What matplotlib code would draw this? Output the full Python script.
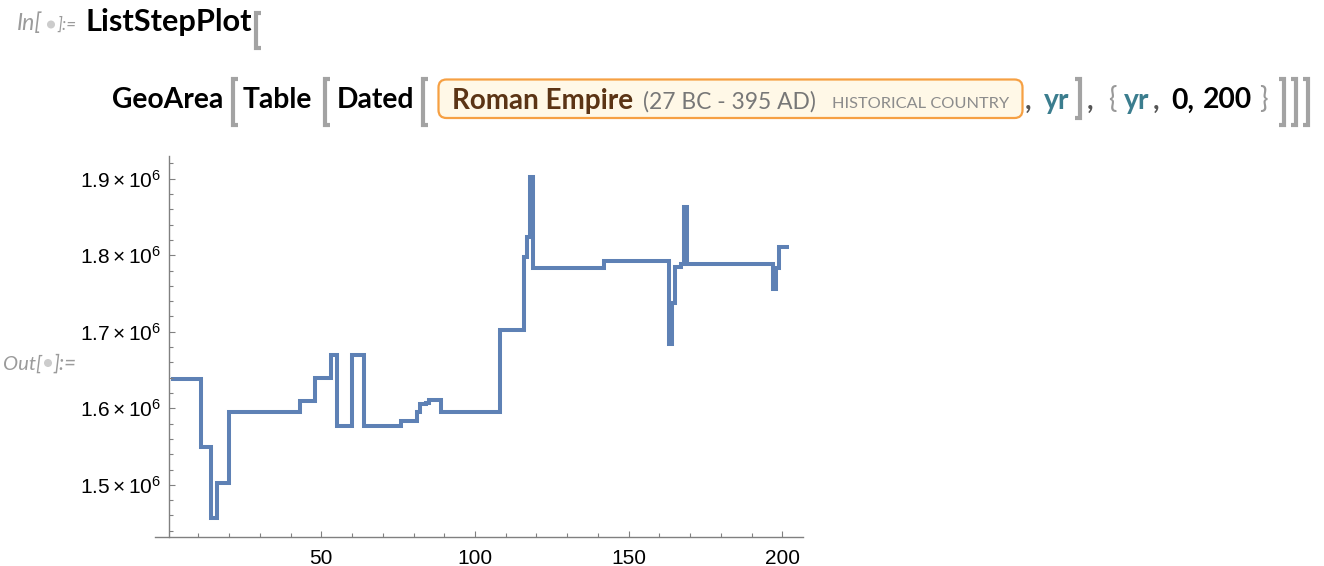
import matplotlib
matplotlib.use('Agg')
import matplotlib.pyplot as plt
from matplotlib.ticker import FixedLocator, MultipleLocator, FuncFormatter
from matplotlib.patches import FancyBboxPatch, Circle
from matplotlib.lines import Line2D
from matplotlib.transforms import Affine2D

# ---------------- data ----------------
# step edges in ListStepPlot index units (index 1 == yr 0), and the value on each step
step_edges = [1, 11, 14, 16, 20, 43, 48, 53, 55, 60, 64, 76, 81, 82, 84, 85, 89,
              108, 116, 117, 118, 119, 142, 163, 164, 165, 167, 168, 169, 197,
              198, 199, 202]
area_values = [1.6387e6, 1.5498e6, 1.4565e6, 1.5022e6, 1.5948e6, 1.6099e6,
               1.6396e6, 1.6701e6, 1.5769e6, 1.6701e6, 1.5769e6, 1.5838e6,
               1.5956e6, 1.6052e6, 1.6073e6, 1.6108e6, 1.5950e6, 1.7024e6,
               1.7975e6, 1.8236e6, 1.9030e6, 1.7840e6, 1.7932e6, 1.6841e6,
               1.7381e6, 1.7843e6, 1.7886e6, 1.8630e6, 1.7886e6, 1.7565e6,
               1.7830e6, 1.8110e6]
x_major_ticks = [50, 100, 150, 200]
x_minor_ticks = [10, 20, 30, 40, 60, 70, 80, 90, 110, 120, 130, 140,
                 160, 170, 180, 190]
y_major_ticks = [1.5e6, 1.6e6, 1.7e6, 1.8e6, 1.9e6]

# ---------------- style ----------------
W, H = 1324, 566
plt.rcParams['mathtext.fontset'] = 'custom'
plt.rcParams['mathtext.rm'] = 'Liberation Sans'
plt.rcParams['mathtext.it'] = 'Liberation Sans:italic'
plt.rcParams['mathtext.bf'] = 'Liberation Sans:bold'
plt.rcParams['font.family'] = ['Liberation Sans', 'DejaVu Sans']

fig = plt.figure(figsize=(W / 100, H / 100), dpi=100)
fig.patch.set_facecolor('white')
T = Affine2D().scale(1, -1).translate(0, H)   # top-left pixel coordinates
renderer = fig.canvas.get_renderer()

LINE_C = '#5e81b5'
AX_C = '#808080'

# ---------------- plot ----------------
ax = fig.add_axes([155 / W, 1 - 536.7 / H, (802.7 - 155) / W, (536.7 - 156) / H])
ax.set_xlim(-4.1, 206.6)
ax.set_ylim(1.43216e6, 1.9298e6)
sp = ax.stairs(area_values, step_edges, baseline=None, color=LINE_C, lw=2.9)
sp.set_joinstyle('miter')
sp.set_capstyle('butt')

for s in ['top', 'right']:
    ax.spines[s].set_visible(False)
ax.spines['left'].set_position(('data', 0.45))
for s in ['left', 'bottom']:
    ax.spines[s].set_color(AX_C)
    ax.spines[s].set_linewidth(1.0)

ax.xaxis.set_major_locator(FixedLocator(x_major_ticks))
ax.xaxis.set_minor_locator(FixedLocator(x_minor_ticks))
ax.yaxis.set_major_locator(FixedLocator(y_major_ticks))
ax.yaxis.set_minor_locator(MultipleLocator(2e4))
ax.tick_params(which='both', direction='in', color=AX_C, width=0.8)
ax.tick_params(which='major', length=4.5)
ax.tick_params(which='minor', length=2.6)
ax.tick_params(axis='both', labelsize=15, labelcolor='black')
ax.tick_params(axis='y', pad=6.0)
ax.tick_params(axis='x', pad=8.5)
ax.xaxis.set_major_formatter(FuncFormatter(lambda v, p: '%d' % v))
ax.yaxis.set_major_formatter(
    FuncFormatter(lambda v, p: r'$\mathregular{%.1f\times10^{6}}$' % (v / 1e6)))

# ---------------- notebook header ----------------
HFONT = ['Lato', 'DejaVu Sans']


def put(s, x0, x1, yb, color='black', weight='bold', style='normal', size=None):
    t = fig.text(x0, yb, s, transform=T, ha='left', va='baseline',
                 fontsize=20 if size is None else size, color=color,
                 fontweight=weight, fontstyle=style, family=HFONT)
    if size is None:
        w = t.get_window_extent(renderer).width
        t.set_fontsize(20 * (x1 - x0) / w)
    return t


def bracket(x, top, bot, opening=True, color='#a3a3a3'):
    d = 5 if opening else -5
    fig.add_artist(Line2D([x + d, x, x, x + d], [top, top, bot, bot],
                          transform=T, color=color, lw=3.0,
                          solid_joinstyle='miter', solid_capstyle='butt'))


GRAY = '#9b9b9b'
# In[●]:=
put('In[', 17, 42, 30, color=GRAY, weight='normal', style='italic')
fig.add_artist(Circle((51, 24.5), 3.3, transform=T, color='#cccccc'))
put(']:=', 57, 76, 30, color=GRAY, weight='normal', style='italic')
put('ListStepPlot', 85, 252, 30.5)
bracket(255.5, 13, 48)

# second line
YB = 108.5
g = put('GeoArea', 112, 223, YB)
BS = g.get_fontsize()
bracket(233, 79, 125)
put('Table', 243, 317, YB, size=BS)
bracket(325, 79, 125)
put('Dated', 337, 415, YB, size=BS)
bracket(423, 79, 125)

fig.add_artist(FancyBboxPatch((438.5, 79.5), 584, 38.5,
                              boxstyle='round,pad=0,rounding_size=8',
                              transform=T, fc='#fff8e7', ec='#f6a043', lw=1.6))
put('Roman Empire', 452, 633, YB, color='#5b3415')
put('(27 BC - 395 AD)', 643, 815, YB, color='#777777', weight='normal')
put('HISTORICAL COUNTRY', 832, 1008, YB, color='#8c8c8c', weight='normal')

TEAL = '#3b7d8e'
put(',', 1025, 1031, YB, color='#555555', weight='bold', size=BS)
put('yr', 1044, 1071, YB, color=TEAL, size=BS)
bracket(1079.5, 79, 118, opening=False)
put(',', 1087, 1093, YB, color='#555555', weight='bold', size=BS)
put('{', 1108, 1119, YB, color='#999999', weight='normal', size=BS)
put('yr', 1124, 1152, YB, color=TEAL, size=BS)
put(',', 1153, 1160, YB, color='#555555', weight='bold', size=BS)
put('0,', 1171, 1190, YB, size=BS)
put('200', 1203, 1250, YB, size=BS)
put('}', 1259, 1269, YB, color='#999999', weight='normal', size=BS)
bracket(1284, 79, 125, opening=False)
bracket(1295.5, 79, 125, opening=False)
bracket(1307.5, 79, 125, opening=False)

# Out[●]:=
put('Out[', 3, 42, 369.3, color=GRAY, weight='normal', style='italic')
fig.add_artist(Circle((48, 363), 3.3, transform=T, color='#cccccc'))
put(']:=', 54, 77, 369.3, color=GRAY, weight='normal', style='italic')

fig.savefig('out.png', dpi=100, facecolor='white')
